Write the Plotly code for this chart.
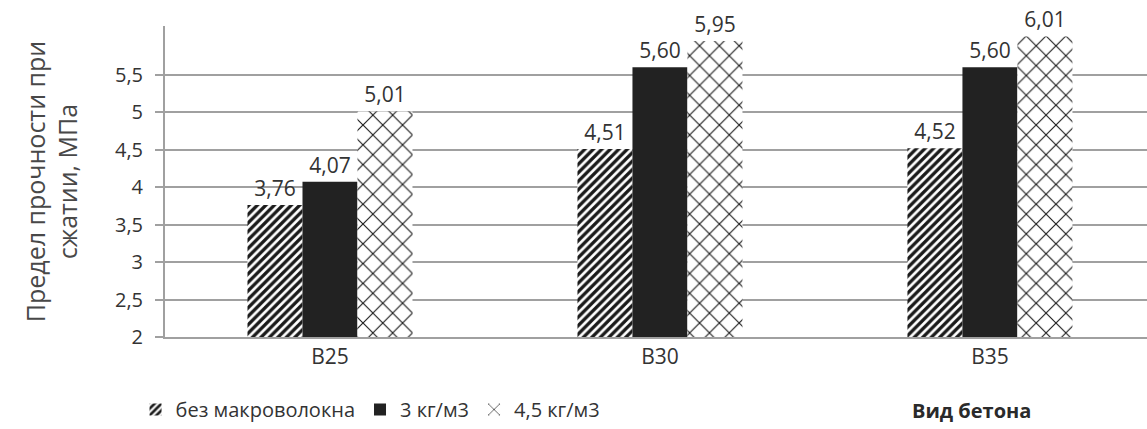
import plotly.graph_objects as go

# Concrete classes and compressive strength (MPa) by macro-fibre dosage
categories = ["В25", "В30", "В35"]
no_fibre = [3.76, 4.51, 4.52]
fibre_3kg = [4.07, 5.60, 5.60]
fibre_45kg = [5.01, 5.95, 6.01]
series_names = ["без макроволокна", "3 кг/м3", "4,5 кг/м3"]
y_ticks = [2, 2.5, 3, 3.5, 4, 4.5, 5, 5.5]

FONT = "Open Sans, Noto Sans, sans-serif"
TEXT = "#333333"
GRID = "#a0a0a0"
LABEL_FONT = dict(size=21, color=TEXT, family=FONT)

fig = go.Figure()

fig.add_trace(go.Bar(
    name=series_names[0], x=categories, y=no_fibre,
    marker=dict(color="white", line=dict(width=0),
                pattern=dict(shape="/", fgcolor="#1a1a1a", bgcolor="white",
                             fgopacity=1, size=6, solidity=0.55)),
    texttemplate="%{y:.2f}", textposition="outside",
    textfont=LABEL_FONT, cliponaxis=False,
))
fig.add_trace(go.Bar(
    name=series_names[1], x=categories, y=fibre_3kg,
    marker=dict(color="#222222", line=dict(width=0)),
    texttemplate="%{y:.2f}", textposition="outside",
    textfont=LABEL_FONT, cliponaxis=False,
))
fig.add_trace(go.Bar(
    name=series_names[2], x=categories, y=fibre_45kg,
    marker=dict(color="white", line=dict(width=0),
                pattern=dict(shape="x", fgcolor="#1e1e1e", bgcolor="white",
                             fgopacity=1, size=14, solidity=0.16)),
    texttemplate="%{y:.2f}", textposition="outside",
    textfont=LABEL_FONT, cliponaxis=False,
))

fig.update_layout(
    width=1147, height=429,
    margin=dict(l=165, r=0, t=26, b=91),
    paper_bgcolor="white", plot_bgcolor="white",
    separators=", ",
    barmode="group", bargap=0.5, bargroupgap=0,
    font=dict(family=FONT, color=TEXT),
    showlegend=True,
    legend=dict(orientation="h", x=-0.03, xanchor="left", y=-0.235, yanchor="middle",
                font=dict(size=20, color=TEXT, family=FONT),
                itemwidth=30, tracegroupgap=0, bgcolor="rgba(0,0,0,0)"),
    annotations=[dict(text="<b>Вид бетона</b>", xref="paper", yref="paper",
                      x=0.821, y=-0.235, xanchor="center", yanchor="middle",
                      showarrow=False, font=dict(size=20, color="#2a2a2a", family=FONT))],
)

fig.update_xaxes(
    range=[-0.5, 2.476],
    showline=True, linecolor=GRID, linewidth=2,
    tickfont=dict(size=21, color=TEXT, family=FONT),
    ticks="", showgrid=False,
)
fig.update_yaxes(
    range=[2, 6.15], tickvals=y_ticks, tickformat=".1~f",
    showline=True, linecolor=GRID, linewidth=2,
    showgrid=True, gridcolor=GRID, gridwidth=1.5,
    ticks="outside", ticklen=8, tickcolor=GRID, tickwidth=1.5,
    ticklabelstandoff=8,
    tickfont=dict(size=20, color=TEXT, family=FONT),
    title=dict(text="Предел прочности при<br>сжатии, МПа", standoff=30,
               font=dict(size=25, color="#484848", family=FONT)),
    zeroline=False,
)

fig.write_html("out.html")
